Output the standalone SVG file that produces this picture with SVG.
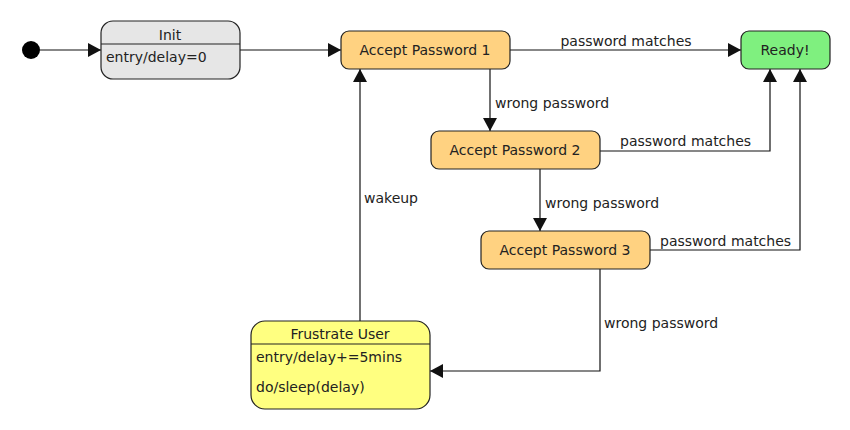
<svg xmlns="http://www.w3.org/2000/svg" width="850" height="430" viewBox="0 0 850 430">
<style>
text{font-family:"DejaVu Sans",sans-serif;font-size:14px;fill:#222}
.st{stroke:#222;stroke-width:1.2}
.ap{fill:#ffd281}
.c{fill:none;stroke:#111;stroke-width:1.2}
.m{text-anchor:middle}
</style>
<defs>
<marker id="a" viewBox="0 0 13 14" refX="13" refY="7" markerWidth="13" markerHeight="14" markerUnits="userSpaceOnUse" orient="auto">
<path d="M0,0L13,7L0,14z" fill="#111"/>
</marker>
</defs>
<rect width="850" height="430" fill="#fff"/>
<g id="connectors">
<path class="c" d="M40,50H101" marker-end="url(#a)"/>
<path class="c" d="M240,50H341" marker-end="url(#a)"/>
<path class="c" d="M510,50H741" marker-end="url(#a)"/>
<text x="626" y="46" class="m">password matches</text>
<path class="c" d="M490,69V131" marker-end="url(#a)"/>
<text x="495" y="108">wrong password</text>
<path class="c" d="M600,151H770V69" marker-end="url(#a)"/>
<text x="620" y="146">password matches</text>
<path class="c" d="M540,169V231" marker-end="url(#a)"/>
<text x="545" y="208">wrong password</text>
<path class="c" d="M650,250H800V69" marker-end="url(#a)"/>
<text x="660" y="246">password matches</text>
<path class="c" d="M600,269V371H430" marker-end="url(#a)"/>
<text x="604" y="328">wrong password</text>
<path class="c" d="M360,321V69" marker-end="url(#a)"/>
<text x="364" y="203">wakeup</text>
</g>
<g id="start"><circle cx="31" cy="50" r="9" fill="#000"/></g>
<g id="init">
<rect x="101" y="21" width="139" height="58" rx="12" fill="#e6e6e6" class="st"/>
<line x1="101" y1="44" x2="240" y2="44" class="st"/>
<text x="170" y="40" class="m">Init</text>
<text x="106" y="62">entry/delay=0</text>
</g>
<g id="ap1">
<rect x="341" y="31" width="169" height="38" rx="8" class="ap st"/>
<text x="425" y="55" class="m">Accept Password 1</text>
</g>
<g id="ready">
<rect x="741" y="31" width="89" height="38" rx="8" fill="#7ff07f" class="st"/>
<text x="785" y="55" class="m">Ready!</text>
</g>
<g id="ap2">
<rect x="431" y="131" width="169" height="38" rx="8" class="ap st"/>
<text x="515" y="155" class="m">Accept Password 2</text>
</g>
<g id="ap3">
<rect x="481" y="231" width="169" height="38" rx="8" class="ap st"/>
<text x="565" y="255" class="m">Accept Password 3</text>
</g>
<g id="frustrate">
<rect x="251" y="321" width="179" height="88" rx="14" fill="#ffff80" class="st"/>
<line x1="251" y1="344" x2="430" y2="344" class="st"/>
<text x="340" y="339" class="m">Frustrate User</text>
<text x="256" y="362">entry/delay+=5mins</text>
<text x="256" y="392">do/sleep(delay)</text>
</g>
</svg>
